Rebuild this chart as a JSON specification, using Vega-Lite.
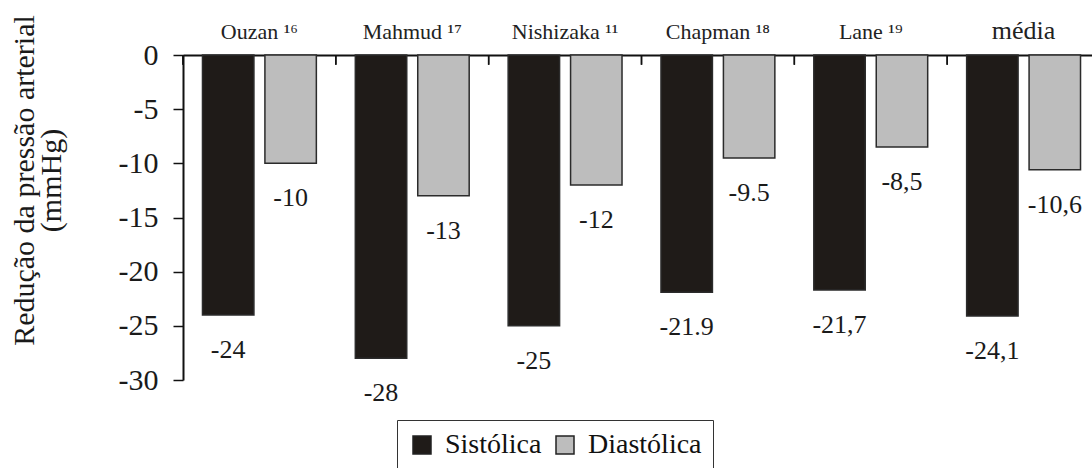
{
  "$schema": "https://vega.github.io/schema/vega-lite/v6.json",
  "width": 917,
  "height": 325,
  "autosize": "none",
  "padding": {"left": 183, "top": 55, "right": 0, "bottom": 88},
  "background": "white",
  "config": {
    "view": {"stroke": null},
    "font": "Times New Roman, Liberation Serif, serif",
    "axis": {"labelFont": "Times New Roman, Liberation Serif, serif", "titleFont": "Times New Roman, Liberation Serif, serif"},
    "legend": {"labelFont": "Times New Roman, Liberation Serif, serif"},
    "text": {"font": "Times New Roman, Liberation Serif, serif"}
  },
  "data": {
    "values": [
      {"study": "Ouzan ¹⁶", "type": "Sistólica", "value": -24, "label": "-24"},
      {"study": "Ouzan ¹⁶", "type": "Diastólica", "value": -10, "label": "-10"},
      {"study": "Mahmud ¹⁷", "type": "Sistólica", "value": -28, "label": "-28"},
      {"study": "Mahmud ¹⁷", "type": "Diastólica", "value": -13, "label": "-13"},
      {"study": "Nishizaka ¹¹", "type": "Sistólica", "value": -25, "label": "-25"},
      {"study": "Nishizaka ¹¹", "type": "Diastólica", "value": -12, "label": "-12"},
      {"study": "Chapman ¹⁸", "type": "Sistólica", "value": -21.9, "label": "-21.9"},
      {"study": "Chapman ¹⁸", "type": "Diastólica", "value": -9.5, "label": "-9.5"},
      {"study": "Lane ¹⁹", "type": "Sistólica", "value": -21.7, "label": "-21,7"},
      {"study": "Lane ¹⁹", "type": "Diastólica", "value": -8.5, "label": "-8,5"},
      {"study": "média", "type": "Sistólica", "value": -24.1, "label": "-24,1"},
      {"study": "média", "type": "Diastólica", "value": -10.6, "label": "-10,6"}
    ]
  },
  "encoding": {
    "x": {
      "field": "study",
      "type": "nominal",
      "sort": null,
      "scale": {"paddingInner": 0, "paddingOuter": 0},
      "axis": {
        "orient": "top",
        "title": null,
        "labelAngle": 0,
        "labelFont": "Times New Roman, Liberation Serif, serif",
        "labelFontSize": {"expr": "datum.value == 'média' ? 26 : 22"},
        "labelColor": "#222222",
        "labelBaseline": "alphabetic",
        "labelPadding": 17,
        "domainColor": "#111111",
        "domainWidth": 2,
        "ticks": false
      }
    },
    "y": {
      "field": "value",
      "type": "quantitative",
      "scale": {"domain": [-30, 0], "nice": false},
      "axis": {
        "title": ["Redução da pressão arterial", "(mmHg)"],
        "values": [0, -5, -10, -15, -20, -25, -30],
        "labelExpr": "toString(datum.value)",
        "grid": false,
        "domainColor": "#111111",
        "domainWidth": 2,
        "tickColor": "#111111",
        "tickWidth": 1.5,
        "tickSize": 10,
        "labelFont": "Times New Roman, Liberation Serif, serif",
        "labelFontSize": 30,
        "labelPadding": 15,
        "labelColor": "#1a1a1a",
        "titleFont": "Times New Roman, Liberation Serif, serif",
        "titleFontSize": 30,
        "titleFontWeight": "normal",
        "titleColor": "#1a1a1a",
        "titleLineHeight": 27,
        "titleBaseline": "middle",
        "titleX": -159,
        "titleY": 125
      }
    }
  },
  "layer": [
    {
      "mark": {"type": "bar", "stroke": "#2b2b2b", "strokeWidth": 1.5},
      "encoding": {
        "xOffset": {
          "field": "type",
          "sort": ["Sistólica", "Diastólica"],
          "scale": {"paddingInner": 0.176, "paddingOuter": 0.312}
        },
        "fill": {
          "field": "type",
          "type": "nominal",
          "scale": {"domain": ["Sistólica", "Diastólica"], "range": ["#1f1b18", "#bdbdbd"]},
          "legend": {
            "title": null,
            "orient": "none",
            "legendX": 214,
            "legendY": 365,
            "direction": "horizontal",
            "symbolType": "square",
            "symbolSize": 324,
            "symbolStrokeColor": "#222222",
            "symbolStrokeWidth": 1.5,
            "labelFont": "Times New Roman, Liberation Serif, serif",
            "labelFontSize": 28,
            "labelColor": "#111111",
            "labelOffset": 9,
            "columnPadding": 9,
            "strokeColor": "#333333",
            "fillColor": "white",
            "padding": 11
          }
        }
      }
    },
    {
      "mark": {"type": "text", "baseline": "middle", "dy": 35, "fontSize": 26, "font": "Times New Roman, Liberation Serif, serif", "color": "#1a1a1a"},
      "encoding": {
        "xOffset": {
          "field": "type",
          "sort": ["Sistólica", "Diastólica"],
          "scale": {"paddingInner": 0.176, "paddingOuter": 0.312}
        },
        "text": {"field": "label"}
      }
    },
    {
      "mark": {"type": "rule", "color": "#111111", "strokeWidth": 1.5},
      "encoding": {
        "x": {"field": "study", "type": "nominal", "sort": null, "bandPosition": 0},
        "y": {"datum": 0},
        "y2": {"datum": -0.9}
      }
    }
  ]
}
